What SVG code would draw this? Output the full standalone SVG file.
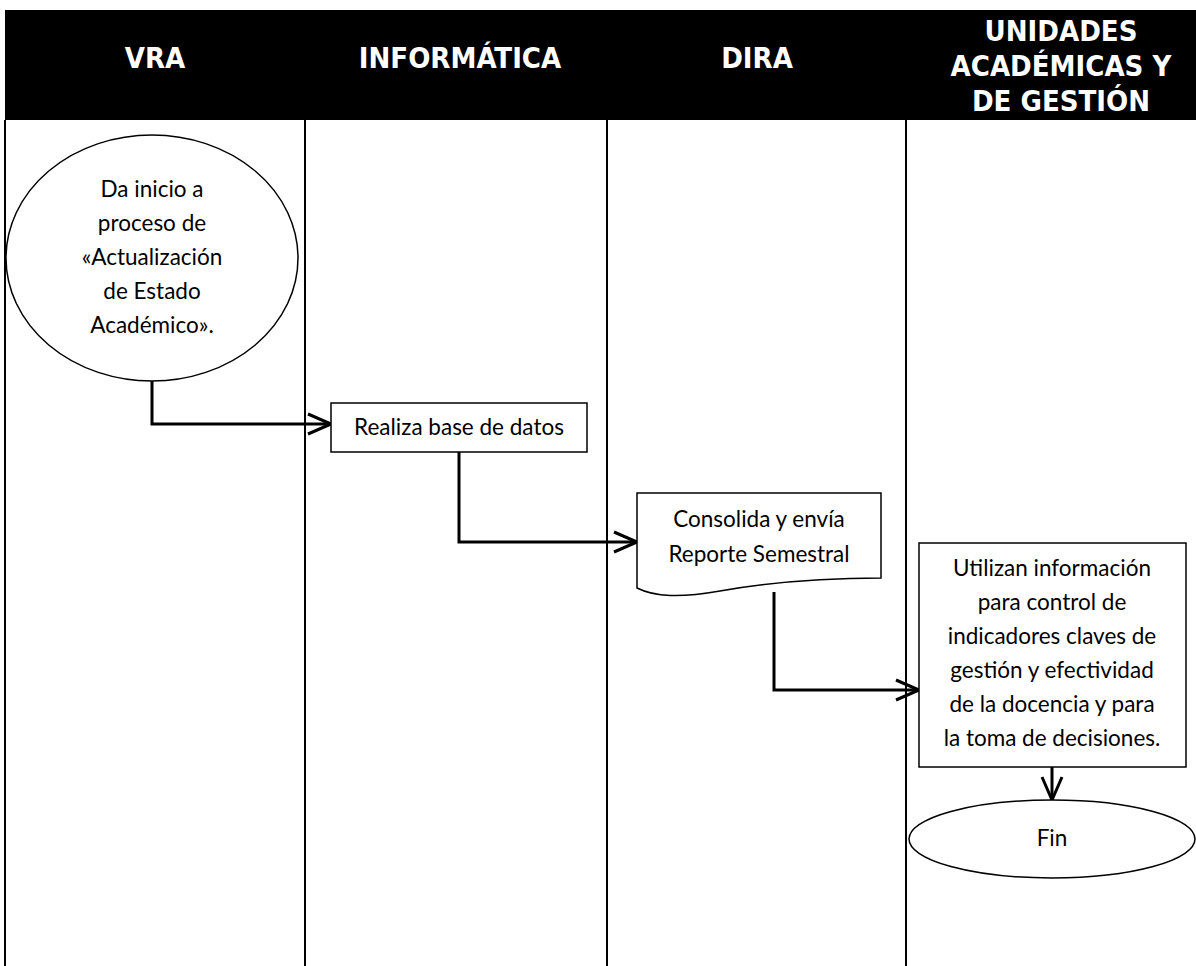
<svg xmlns="http://www.w3.org/2000/svg" width="1196" height="966" viewBox="0 0 1196 966">
<defs>
<style>
.hdr{font-family:"DejaVu Sans Condensed","DejaVu Sans",sans-serif;font-stretch:condensed;font-weight:bold;font-size:29px;fill:#fff;text-anchor:middle}
.lane{stroke:#000;stroke-width:2;fill:none}
.shape{fill:#fff;stroke:#000;stroke-width:1.5}
.txt{font-family:Lato,"Open Sans",sans-serif;font-size:22.5px;fill:#000;text-anchor:middle}
.conn{fill:none;stroke:#000;stroke-width:3}
</style>
<marker id="arrow" viewBox="0 0 26 24" refX="25" refY="12" markerWidth="26" markerHeight="24" markerUnits="userSpaceOnUse" orient="auto">
<path d="M2,2 L25,12 L2,22" fill="none" stroke="#000" stroke-width="3"/>
</marker>
</defs>
<rect width="1196" height="966" fill="#fff"/>
<g id="header">
<rect x="5" y="10" width="1191" height="110" fill="#000"/>
<text class="hdr" x="155" y="68">VRA</text>
<text class="hdr" x="460" y="68">INFORMÁTICA</text>
<text class="hdr" x="757" y="68">DIRA</text>
<text class="hdr" x="1061" y="41">UNIDADES</text>
<text class="hdr" x="1061" y="76">ACADÉMICAS Y</text>
<text class="hdr" x="1061" y="111">DE GESTIÓN</text>
</g>
<g id="lanes">
<line class="lane" x1="5" y1="120" x2="5" y2="966"/>
<line class="lane" x1="305" y1="120" x2="305" y2="966"/>
<line class="lane" x1="607" y1="120" x2="607" y2="966"/>
<line class="lane" x1="906" y1="120" x2="906" y2="966"/>
</g>
<g id="connectors">
<path class="conn" d="M152,381 V424 H331" marker-end="url(#arrow)"/>
<path class="conn" d="M459,452 V542 H637" marker-end="url(#arrow)"/>
<path class="conn" d="M774,592 V690 H919" marker-end="url(#arrow)"/>
<path class="conn" d="M1052,767 V800" marker-end="url(#arrow)"/>
</g>
<g id="start">
<ellipse class="shape" cx="152" cy="258" rx="146" ry="123"/>
<text class="txt" x="152" y="197">Da inicio a</text>
<text class="txt" x="152" y="231">proceso de</text>
<text class="txt" x="152" y="265">«Actualización</text>
<text class="txt" x="152" y="299">de Estado</text>
<text class="txt" x="152" y="333">Académico».</text>
</g>
<g id="realiza">
<rect class="shape" x="331" y="403" width="256" height="49"/>
<text class="txt" x="459" y="435">Realiza base de datos</text>
</g>
<g id="consolida">
<path class="shape" d="M637,493 H881 V578 C820,578 760,584 720,591 C680,598 655,597 637,588 Z"/>
<text class="txt" x="759" y="527">Consolida y envía</text>
<text class="txt" x="759" y="562">Reporte Semestral</text>
</g>
<g id="utilizan">
<rect class="shape" x="919" y="543" width="267" height="224"/>
<text class="txt" x="1052" y="576">Utilizan información</text>
<text class="txt" x="1052" y="610">para control de</text>
<text class="txt" x="1052" y="644">indicadores claves de</text>
<text class="txt" x="1052" y="678">gestión y efectividad</text>
<text class="txt" x="1052" y="712">de la docencia y para</text>
<text class="txt" x="1052" y="746">la toma de decisiones.</text>
</g>
<g id="fin">
<ellipse class="shape" cx="1052" cy="839" rx="143" ry="39"/>
<text class="txt" x="1052" y="846">Fin</text>
</g>
</svg>
